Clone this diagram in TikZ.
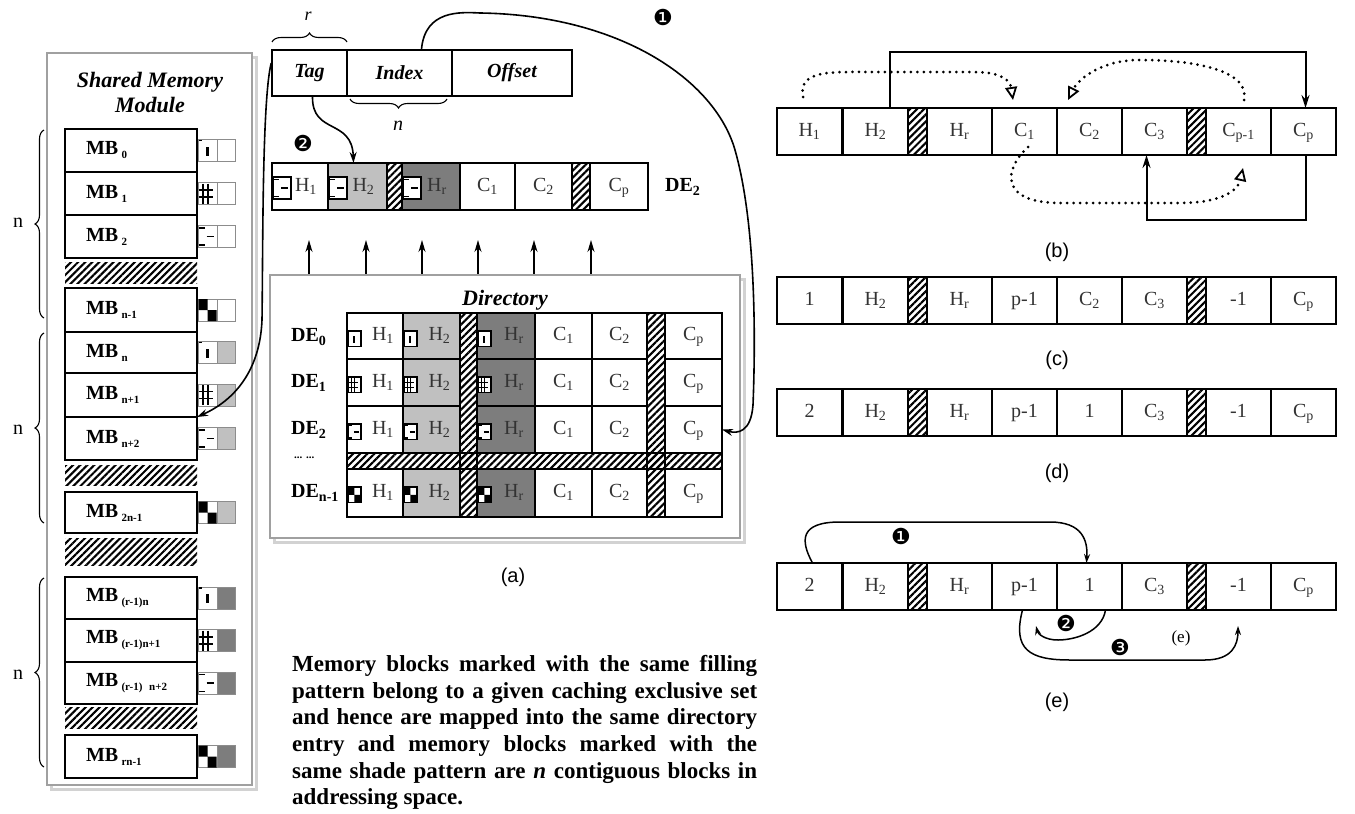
\documentclass[tikz,border=0pt]{standalone}
\usepackage{fontspec}
\setmainfont{Liberation Serif}
\newfontfamily\sansf{Liberation Sans}
\newfontfamily\dingf{DejaVu Sans}
\usetikzlibrary{patterns,patterns.meta,arrows.meta,decorations.pathreplacing,calc}
\definecolor{lightg}{RGB}{192,192,192}
\definecolor{darkg}{RGB}{125,125,125}
\definecolor{framec}{RGB}{160,160,160}
\definecolor{shadowc}{RGB}{210,210,210}
\newcommand\fsz[2]{\fontsize{#1}{#2}\selectfont}
\newcommand\sbs[1]{\textsubscript{#1}}
\newcommand\mbl[1]{MB\,\raisebox{-4pt}{\fsz{11}{11}#1}}
\newcommand\rrow[3]{%
  \foreach \ii/\txt in {#3} {%
    \pgfmathsetmacro\xa{{777,843,927,992,1057,1122,1206,1271}[\ii-1]}%
    \node[cell, minimum width=65pt, minimum height=47pt] (#1\ii) at (\xa+32.5,#2+23.5) {\txt};
  }
  \node[hatchc, minimum width=19pt, minimum height=47pt] (#1ha) at (917.5,#2+23.5) {};
  \node[hatchc, minimum width=19pt, minimum height=47pt] (#1hb) at (1196.5,#2+23.5) {};
}
\newcommand\mbbox[6]{%
  \node[mb, minimum height={(#3)-(#2)}] (#1) at (131,{((#2)+(#3))/2}) {\mbl{#4}};
  \draw[mkline, fill=white] (198,{((#2)+(#3))/2-11}) rectangle (217,{((#2)+(#3))/2+11});
  \draw[mkline, fill=#6] (217,{((#2)+(#3))/2-11}) rectangle (235,{((#2)+(#3))/2+11});
  \pic at (198.5,{((#2)+(#3))/2-11}) {#5};
}
\newcommand\dmk[4]{%
  \draw[markb] (#1,#2) rectangle ++({18*#4},{22*#4});
  \pic[scale=#4] at (#1,#2) {#3};
}
\begin{document}
\begin{tikzpicture}[x=1pt,y=-1pt,
  cell/.style={draw, line width=2.2pt, inner sep=0pt, outer sep=0pt, text height=14pt, text depth=5pt, font=\fsz{20}{24}, text=black!80},
  dcell/.style={draw, line width=1.8pt, inner sep=0pt, outer sep=0pt, text height=14pt, text depth=5pt, font=\fsz{20}{24}, text=black!80},
  hatchc/.style={draw, line width=2.2pt, inner sep=0pt, outer sep=0pt, pattern={Lines[angle=45,distance=5pt,line width=2.1pt]}},
  hatchn/.style={inner sep=0pt, outer sep=0pt, pattern={Lines[angle=45,distance=5pt,line width=2.1pt]}},
  mb/.style={draw, line width=2.4pt, fill=white, minimum width=132pt, text width=90pt, align=left, inner xsep=21pt, inner ysep=0pt, outer sep=0pt, font=\bfseries\fsz{20}{24}},
  mkline/.style={draw=black!45, line width=0.8pt},
  markb/.style={draw, line width=1.2pt, fill=white},
  frame/.style={draw=framec, line width=2.6pt, fill=white, inner sep=0pt},
  shadowbox/.style={draw=shadowc, line width=3pt},
  tbox/.style={draw, line width=1.6pt, inner sep=0pt, font=\bfseries\itshape\fsz{20}{24}},
  brc/.style={decorate, decoration={brace, amplitude=9pt}, line width=1.1pt},
  arr/.style={line width=1.6pt, -{Stealth[length=11pt,width=7pt]}},
  uparr/.style={line width=1.4pt, -{Stealth[length=12pt,width=7pt]}},
  solidarr/.style={line width=2pt, -{Stealth[length=13pt,width=8pt]}},
  dotarr/.style={line width=3pt, line cap=round, dash pattern=on 0pt off 6.5pt, -{Triangle[open,length=13pt,width=12pt,line width=1.8pt]}},
  earr/.style={line width=1.5pt, -{Stealth[length=9pt,width=6pt]}},
  lab/.style={font=\sansf\fsz{20}{24}, inner sep=0pt},
  num/.style={font=\dingf\fsz{22}{24}, inner sep=0pt},
  delab/.style={anchor=west, inner sep=0pt, font=\bfseries\fsz{20}{24}},
  pics/pat0/.style={code={\draw[line width=1.2pt] (0.5,1)--(3,1); \fill (7,7) rectangle (10,16);}},
  pics/pat1/.style={code={\draw[line width=1.3pt] (0,7.5)--(14,7.5) (0,14.5)--(14,14.5) (4.5,1)--(4.5,21) (9.5,1)--(9.5,21);}},
  pics/pat2/.style={code={\draw[line width=1.3pt] (0,2.5)--(6,2.5) (0,19.5)--(6,19.5) (8,11)--(15,11);}},
  pics/pat3/.style={code={\fill (0,0) rectangle (9,11) (9,11) rectangle (18,22);}}
]
\path[use as bounding box, fill=white] (0,0) rectangle (1355,814);

% ---------- shared memory module ----------
\draw[shadowbox] (51,57) rectangle (256,789);
\node[frame, minimum width=205pt, minimum height=732pt] (smm) at (149.5,419) {};
\node[font=\bfseries\itshape\fsz{22}{25}, align=center] (smmtitle) at (150,92) {Shared Memory\\Module};

\mbbox{mb0}{129}{172}{0}{pat0}{white}
\mbbox{mb1}{172}{215}{1}{pat1}{white}
\mbbox{mb2}{215}{258}{2}{pat2}{white}
\node[hatchn, minimum width=132pt, minimum height=21pt] (mbh1) at (131,272.5) {};
\mbbox{mbn1}{288}{332}{n-1}{pat3}{white}
\mbbox{mbn}{332}{373}{n}{pat0}{lightg}
\mbbox{mbnp1}{373}{417}{n+1}{pat1}{lightg}
\mbbox{mbnp2}{417}{460}{n+2}{pat2}{lightg}
\node[hatchn, minimum width=132pt, minimum height=20pt] (mbh2) at (131,475) {};
\mbbox{mbtwon}{492}{533}{2n-1}{pat3}{lightg}
\node[hatchn, minimum width=132pt, minimum height=27pt] (mbh3) at (131,551.5) {};
\mbbox{mbr0}{577}{619}{(r-1)n}{pat0}{darkg}
\mbbox{mbr1}{619}{662}{(r-1)n+1}{pat1}{darkg}
\mbbox{mbr2}{662}{704}{(r-1) n+2}{pat2}{darkg}
\node[hatchn, minimum width=132pt, minimum height=21pt] (mbh4) at (131,717.5) {};
\mbbox{mbrn}{735}{778}{rn-1}{pat3}{darkg}

\draw[brc] (44,318) -- (44,130);
\draw[brc] (44,523) -- (44,333);
\draw[brc] (44,767) -- (44,578);
\node[font=\fsz{20}{24}] (nl1) at (18,223) {n};
\node[font=\fsz{20}{24}] (nl2) at (18,430) {n};
\node[font=\fsz{20}{24}] (nl3) at (18,675) {n};

% ---------- address fields ----------
\node[tbox, minimum width=75pt, minimum height=46pt] (tag) at (309.5,73) {Tag};
\node[tbox, minimum width=105pt, minimum height=46pt] (index) at (399.5,73) {Index};
\node[tbox, minimum width=120pt, minimum height=46pt] (offset) at (512,73) {Offset};
\draw[brc] (272,42) -- (347,42);
\node[font=\itshape\fsz{18}{20}, inner sep=0pt] (rl) at (308,16) {r};
\draw[brc] (447,99) -- (350,99);
\node[font=\itshape\fsz{20}{24}] (il) at (398,126) {n};

% ---------- DE2 row ----------
\node[cell, minimum width=56pt, minimum height=47pt] (t1) at (300,186.5) {\hspace{12pt}H\sbs{1}};
\node[cell, fill=lightg, minimum width=59pt, minimum height=47pt] (t2) at (357.5,186.5) {\hspace{12pt}H\sbs{2}};
\node[hatchc, minimum width=15pt, minimum height=47pt] (th1) at (394.5,186.5) {};
\node[cell, fill=darkg, minimum width=58pt, minimum height=47pt] (t3) at (431,186.5) {\hspace{12pt}H\sbs{r}};
\node[cell, minimum width=55pt, minimum height=47pt] (t4) at (487.5,186.5) {C\sbs{1}};
\node[cell, minimum width=57pt, minimum height=47pt] (t5) at (543.5,186.5) {C\sbs{2}};
\node[hatchc, minimum width=18pt, minimum height=47pt] (th2) at (581,186.5) {};
\node[cell, minimum width=58pt, minimum height=47pt] (t6) at (619,186.5) {C\sbs{p}};
\dmk{273}{177}{pat2}{1}
\dmk{329}{177}{pat2}{1}
\dmk{403}{177}{pat2}{1}
\node[delab] (detop) at (665,187) {DE\sbs{2}};

% ---------- directory ----------
\draw[shadowbox] (274,279) rectangle (744,542);
\node[frame, minimum width=470pt, minimum height=263pt] (dirframe) at (505,406.5) {};
\node[font=\bfseries\itshape\fsz{22}{25}] (dirtitle) at (505,300) {Directory};
\foreach \rr/\ya/\yb in {0/313/359,1/359/406,2/406/453,3/469/517}{
  \foreach \cc/\xa/\xb/\fl/\txt in {1/347/403/white/{\hspace{16pt}H\sbs{1}},2/403/460/lightg/{\hspace{16pt}H\sbs{2}},3/477/535/darkg/{\hspace{16pt}H\sbs{r}},4/535/592/white/{C\sbs{1}},5/592/647/white/{C\sbs{2}},6/665/722/white/{C\sbs{p}}}{
    \node[dcell, fill=\fl, minimum width={\xb-\xa}, minimum height={\yb-\ya}] (dir\rr\cc) at ({(\xa+\xb)/2},{(\ya+\yb)/2}) {\txt};
  }
}
\node[hatchc, line width=1.8pt, minimum width=17pt, minimum height=204pt] (dirha) at (468.5,415) {};
\node[hatchc, line width=1.8pt, minimum width=18pt, minimum height=204pt] (dirhb) at (656,415) {};
\node[hatchc, line width=1.8pt, minimum width=375pt, minimum height=16pt] (dirhr) at (534.5,461) {};
\foreach \xa in {347,403,477}{
  \dmk{\xa+1}{331}{pat0}{0.72}
  \dmk{\xa+1}{377}{pat1}{0.72}
  \dmk{\xa+1}{424}{pat2}{0.72}
  \dmk{\xa+1}{487}{pat3}{0.72}
}
\node[delab] (de0) at (291,337) {DE\sbs{0}};
\node[delab] (de1) at (291,383) {DE\sbs{1}};
\node[delab] (de2) at (291,430) {DE\sbs{2}};
\node[delab, font=\bfseries\fsz{11}{12}] (dedots) at (294,458) {... ...};
\node[delab] (den) at (291,493) {DE\sbs{n-1}};

\foreach \k/\xx in {1/309,2/366,3/422,4/478,5/534,6/591}{
  \coordinate (up\k) at (\xx,240);
  \draw[uparr] (dirframe.north -| up\k) -- (up\k);
}

% ---------- arrows of (a) ----------
\draw[arr] ([xshift=22pt]index.north) .. controls (425,10) and (460,12) .. (480,13)
  .. controls (620,15) and (715,80) .. (735,150)
  .. controls (755,220) and (756,330) .. (753,405)
  .. controls (751,432) and (738,434) .. (dir26.east);
\node[num] (n1) at (663,17) {❶};
\draw[arr] ([xshift=3pt]tag.south) .. controls (312,135) and (352,118) .. ([xshift=-4pt]t2.north);
\node[num] (n2) at (303,143) {❷};
\draw[arr] ([yshift=10pt]tag.west) .. controls (262,100) and (263,250) .. (262,320)
  .. controls (260,370) and (235,400) .. (mbnp2.north east);

\node[lab] (la) at (513,577) {(a)};

% ---------- caption ----------
\node[anchor=north west, text width=465pt, align=justify, inner sep=0pt, font=\bfseries\fsz{23}{26.7}] (cap) at (292,655)
{Memory blocks marked with the same filling\linebreak pattern belong to a given caching exclusive set\linebreak and hence are mapped into the same directory\linebreak entry and memory blocks marked with the\linebreak same shade pattern are \textit{n} contiguous blocks in\linebreak addressing space.};

% ---------- right rows ----------
\rrow{b}{108}{1/{H\sbs{1}},2/{H\sbs{2}},3/{H\sbs{r}},4/{C\sbs{1}},5/{C\sbs{2}},6/{C\sbs{3}},7/{C\sbs{p-1}},8/{C\sbs{p}}}
\rrow{c}{277}{1/1,2/{H\sbs{2}},3/{H\sbs{r}},4/{p-1},5/{C\sbs{2}},6/{C\sbs{3}},7/{-1},8/{C\sbs{p}}}
\rrow{d}{389}{1/2,2/{H\sbs{2}},3/{H\sbs{r}},4/{p-1},5/1,6/{C\sbs{3}},7/{-1},8/{C\sbs{p}}}
\rrow{e}{563}{1/2,2/{H\sbs{2}},3/{H\sbs{r}},4/{p-1},5/1,6/{C\sbs{3}},7/{-1},8/{C\sbs{p}}}

\node[lab] (lb) at (1057,252) {(b)};
\node[lab] (lc) at (1057,360) {(c)};
\node[lab] (ld) at (1057,473) {(d)};
\node[lab] (le) at (1057,702) {(e)};

% (b) arrows
\draw[solidarr] ([xshift=14pt]b2.north) -- ++(0,-56) -| ([xshift=2pt]b8.north);
\draw[solidarr] ([xshift=2pt]b8.south) -- ++(0,65) -| ([xshift=-8pt]b6.south);
\coordinate (d1a) at (803,97);
\coordinate (d1b) at (1013,100);
\draw[dotarr] (d1a) .. controls (798,70) and (830,72) .. (870,72) -- (975,72) .. controls (1000,72) and (1010,80) .. (d1b);
\coordinate (d2a) at (1244,100);
\coordinate (d2b) at (1068,100);
\draw[dotarr] (d2a) .. controls (1250,72) and (1200,60) .. (1140,60) .. controls (1100,60) and (1078,80) .. (d2b);
\coordinate (d3a) at (1028,147);
\coordinate (d3b) at (1243,168);
\draw[dotarr] (d3a) .. controls (1003,170) and (1000,203) .. (1060,203) -- (1180,203) .. controls (1222,203) and (1238,190) .. (d3b);

% (e) arrows
\draw[earr] ([xshift=3pt]e1.north) .. controls (800,540) and (800,522) .. (840,522) -- (1050,522) .. controls (1082,522) and (1088,540) .. ([xshift=-3pt]e5.north);
\node[num] (en1) at (901,536) {❶};
\coordinate (e2tip) at (1036,626);
\draw[earr] ([xshift=16pt]e5.south) .. controls (1102,632) and (1075,640) .. (1058,640) .. controls (1045,640) and (1038,634) .. (e2tip);
\node[num] (en2) at (1066,623) {❷};
\coordinate (e3tip) at (1238,626);
\draw[earr] ([xshift=-2pt]e4.south) .. controls (1012,650) and (1030,660) .. (1070,660) -- (1205,660) .. controls (1232,660) and (1238,645) .. (e3tip);
\node[num] (en3) at (1120,647) {❸};
\node[font=\fsz{17}{20}, inner sep=0pt] (le2) at (1181,638) {(e)};
\end{tikzpicture}
\end{document}
